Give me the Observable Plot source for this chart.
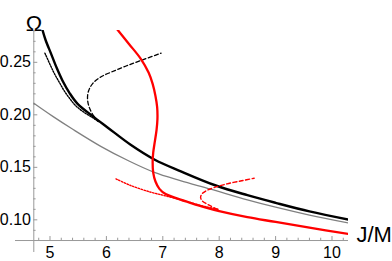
<!DOCTYPE html>
<html><head><meta charset="utf-8">
<script src="https://cdn.jsdelivr.net/npm/d3@7"></script>
<script src="https://cdn.jsdelivr.net/npm/@observablehq/plot@0.6"></script>
<style>html,body{margin:0;padding:0;background:#fff;} svg{display:block;}</style>
</head><body><div id="chart"></div>
<script>
// Tick values and labels
const xTicks = [5, 6, 7, 8, 9, 10];
const xTickLabels = ["5", "6", "7", "8", "9", "10"];
const xMinorTicks = [4.8, 5.2, 5.4, 5.6, 5.8, 6.2, 6.4, 6.6, 6.8, 7.2, 7.4, 7.6, 7.8, 8.2, 8.4, 8.6, 8.8, 9.2, 9.4, 9.6, 9.8, 10.2];
const yTicks = [0.10, 0.15, 0.20, 0.25];
const yTickLabels = ["0.10", "0.15", "0.20", "0.25"];
const yMinorTicks = [0.09, 0.11, 0.12, 0.13, 0.14, 0.16, 0.17, 0.18, 0.19, 0.21, 0.22, 0.23, 0.24, 0.26, 0.27, 0.28];
const xLabel = "J/M";
const yLabel = "Ω";

// Series (J/M, Ω)
const blackSolidJ = [4.855, 4.92, 5.02, 5.12, 5.22, 5.35, 5.49, 5.75, 6.02, 6.43, 6.85, 7.32, 7.94, 8.5, 9.0, 9.6, 10.29];
const blackSolidW = [0.2830, 0.2715, 0.2580, 0.2445, 0.2327, 0.2205, 0.2105, 0.1990, 0.1880, 0.1715, 0.1575, 0.1462, 0.1327, 0.1235, 0.1162, 0.1080, 0.1002];

const grayJ = [4.713, 5.05, 5.39, 5.9, 6.40, 6.85, 7.31, 7.85, 8.5, 9.0, 9.6, 10.29];
const grayW = [0.2110, 0.1985, 0.1867, 0.1700, 0.1560, 0.1452, 0.1374, 0.1292, 0.1190, 0.1120, 0.1045, 0.0970];

const blackDashJ = [5.86, 5.75, 5.685, 5.665, 5.685, 5.76, 5.90, 6.10, 6.35, 6.61, 6.97];
const blackDashW = [0.1935, 0.2010, 0.2090, 0.2160, 0.2230, 0.2300, 0.2360, 0.2410, 0.2465, 0.2517, 0.2587];

const blackDotJ = [4.91, 5.0, 5.08, 5.17, 5.25, 5.35, 5.45, 5.6, 5.75, 5.86];
const blackDotW = [0.2587, 0.2480, 0.2390, 0.2305, 0.2230, 0.2155, 0.2090, 0.2025, 0.1975, 0.1935];

const redSolidJ = [6.19, 6.40, 6.61, 6.75, 6.82, 6.87, 6.90, 6.905, 6.89, 6.86, 6.83, 6.82, 6.83, 6.87, 6.94, 7.05, 7.25, 7.5, 7.75, 8.0, 8.5, 9.0, 9.6, 10.29];
const redSolidW = [0.2815, 0.2675, 0.2533, 0.2400, 0.2295, 0.2180, 0.2072, 0.1960, 0.1860, 0.1750, 0.1640, 0.1550, 0.1450, 0.1365, 0.1295, 0.1245, 0.1205, 0.1160, 0.1118, 0.1082, 0.1025, 0.0980, 0.0925, 0.0866];

const redDashJ = [7.97, 7.82, 7.70, 7.67, 7.70, 7.78, 7.90, 8.14, 8.40, 8.62];
const redDashW = [0.1100, 0.1140, 0.1180, 0.1215, 0.1250, 0.1280, 0.1305, 0.1343, 0.1372, 0.1396];

const redDotJ = [6.17, 6.43, 6.79, 7.02, 7.32, 7.50, 7.70, 8.00];
const redDotW = [0.1390, 0.1327, 0.1263, 0.1232, 0.1190, 0.1163, 0.1133, 0.1098];

const pts = (J, W) => J.map((j, i) => ({J: j, W: W[i]}));

// Layout
const width = 392, height = 261;
const mL = 15, mR = 44, mT = 30, mB = 9;
const xDomain = [4.3883, 10.2926];
const yDomain = [0.0689, 0.2803];
const axisJ = 4.7128, axisW = 0.0803;
const pxJ = (xDomain[1] - xDomain[0]) / (width - mL - mR);
const pxW = (yDomain[1] - yDomain[0]) / (height - mT - mB);
const axisColor = "#999";
const font = "'Liberation Sans', Arial, Helvetica, sans-serif";

const chart = Plot.plot({
  width, height,
  marginLeft: mL, marginRight: mR, marginTop: mT, marginBottom: mB,
  x: {domain: xDomain, axis: null},
  y: {domain: yDomain, axis: null},
  style: {fontFamily: font, background: "#fff"},
  marks: [
    // axes
    Plot.ruleY([axisW], {x1: xDomain[0], x2: xDomain[1], stroke: axisColor, strokeWidth: 1}),
    Plot.ruleX([axisJ], {y1: yDomain[0], y2: yDomain[1], stroke: axisColor, strokeWidth: 1}),
    Plot.ruleX(xTicks, {x: d => d, y1: axisW, y2: axisW + 4 * pxW, stroke: axisColor, strokeWidth: 1}),
    Plot.ruleX(xMinorTicks, {x: d => d, y1: axisW, y2: axisW + 2.3 * pxW, stroke: axisColor, strokeWidth: 1}),
    Plot.ruleY(yTicks, {y: d => d, x1: axisJ, x2: axisJ + 4 * pxJ, stroke: axisColor, strokeWidth: 1}),
    Plot.ruleY(yMinorTicks, {y: d => d, x1: axisJ, x2: axisJ + 2.3 * pxJ, stroke: axisColor, strokeWidth: 1}),
    Plot.text(xTicks, {x: d => d, text: (d, i) => xTickLabels[i], frameAnchor: "bottom", lineAnchor: "top", dy: -5.5, fontSize: 16, fill: "#000"}),
    Plot.text(yTicks, {y: d => d, text: (d, i) => yTickLabels[i], frameAnchor: "left", textAnchor: "end", dx: 15.5, fontSize: 16, fill: "#000"}),
    Plot.text([yLabel], {frameAnchor: "top-left", text: d => d, textAnchor: "middle", dx: 18.5, dy: -15.3, fontSize: 22, fill: "#000"}),
    Plot.text([xLabel], {frameAnchor: "bottom-right", text: d => d, textAnchor: "start", dx: 8, dy: -10.7, fontSize: 22, fill: "#000"}),
    // curves
    Plot.line(pts(grayJ, grayW), {x: "J", y: "W", stroke: "#808080", strokeWidth: 1.3, curve: "catmull-rom", clip: true}),
    Plot.line(pts(blackDotJ, blackDotW), {x: "J", y: "W", stroke: "#000", strokeWidth: 1.4, strokeDasharray: "1.4,1.4", curve: "catmull-rom", clip: true}),
    Plot.line(pts(blackDashJ, blackDashW), {x: "J", y: "W", stroke: "#000", strokeWidth: 1.3, strokeDasharray: "4,2.5", curve: "catmull-rom", clip: true}),
    Plot.line(pts(blackSolidJ, blackSolidW), {x: "J", y: "W", stroke: "#000", strokeWidth: 2.4, curve: "catmull-rom", clip: true}),
    Plot.line(pts(redDotJ, redDotW), {x: "J", y: "W", stroke: "#ff0000", strokeWidth: 1.4, strokeDasharray: "1.5,1.5", curve: "catmull-rom", clip: true}),
    Plot.line(pts(redDashJ, redDashW), {x: "J", y: "W", stroke: "#ff0000", strokeWidth: 1.4, strokeDasharray: "4,2.5", curve: "catmull-rom", clip: true}),
    Plot.line(pts(redSolidJ, redSolidW), {x: "J", y: "W", stroke: "#ff0000", strokeWidth: 2.3, curve: "catmull-rom", clip: true})
  ]
});
document.getElementById("chart").appendChild(chart);
</script>
</body></html>
